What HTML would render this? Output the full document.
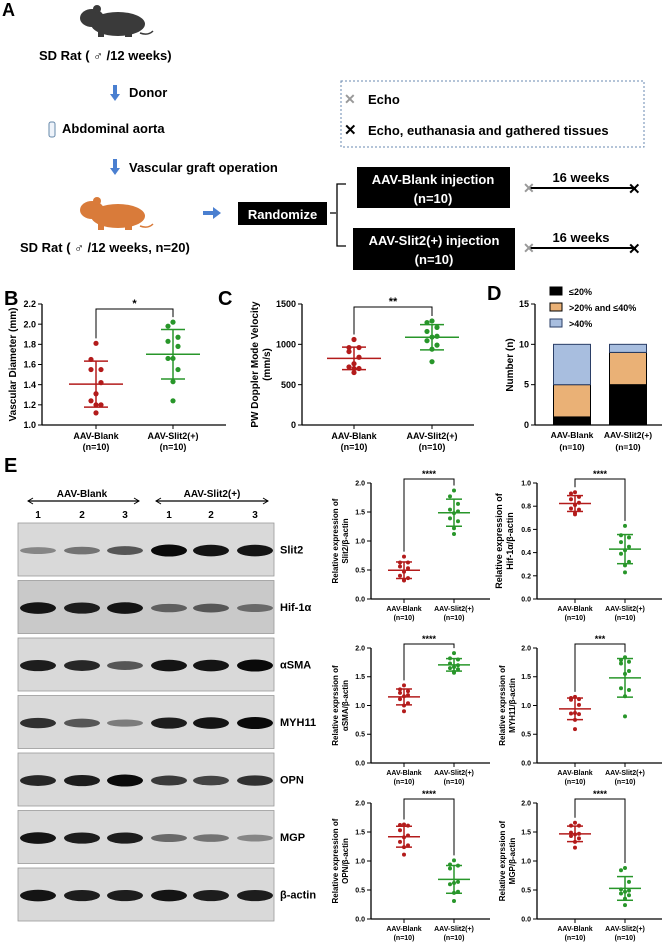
<!DOCTYPE html>
<html><head><meta charset="utf-8"><style>
body{margin:0;background:#fff}
svg{display:block;font-family:"Liberation Sans",Arial,sans-serif;font-weight:bold}
</style></head><body>
<svg id="fig" width="668" height="944" viewBox="0 0 668 944" xmlns="http://www.w3.org/2000/svg">
<!-- Panel A -->
<g>
<text x="2" y="16" font-size="18">A</text>
<g fill="#3a3a3a">
<ellipse cx="118" cy="24" rx="27" ry="12"/><ellipse cx="92" cy="18" rx="12" ry="9"/><ellipse cx="97" cy="9" rx="4" ry="4"/>
<rect x="98" y="28" width="6" height="9"/><rect x="125" y="28" width="7" height="9"/>
<path d="M140 33 Q148 36 153 31" stroke="#3a3a3a" stroke-width="1.5" fill="none"/></g>
<text x="39" y="60" font-size="13">SD Rat ( ♂ /12 weeks)</text>
<rect x="113" y="85" width="4" height="10" fill="#4a7fd0"/><path d="M110 94 L120 94 L115 101Z" fill="#4a7fd0"/>
<text x="129" y="97" font-size="13">Donor</text>
<rect x="49" y="122" width="6" height="15" rx="2" fill="#eef3fa" stroke="#6688aa"/>
<text x="62" y="133" font-size="13">Abdominal aorta</text>
<rect x="113" y="159" width="4" height="10" fill="#4a7fd0"/><path d="M110 168 L120 168 L115 175Z" fill="#4a7fd0"/>
<text x="129" y="172" font-size="13">Vascular graft operation</text>
<g fill="#d97b3a">
<ellipse cx="118" cy="216" rx="27" ry="12"/><ellipse cx="92" cy="210" rx="12" ry="9"/><ellipse cx="97" cy="201" rx="4" ry="4"/>
<rect x="98" y="220" width="6" height="10"/><rect x="125" y="220" width="7" height="10"/>
<path d="M140 226 Q148 229 153 224" stroke="#d97b3a" stroke-width="1.5" fill="none"/></g>
<text x="20" y="252" font-size="13">SD Rat ( ♂ /12 weeks, n=20)</text>
<rect x="203" y="211" width="11" height="4" fill="#4a7fd0"/><path d="M213 207 L221 213 L213 219Z" fill="#4a7fd0"/>
<rect x="238" y="202" width="89" height="23" fill="#000"/>
<text x="282.5" y="219" font-size="13" fill="#fff" text-anchor="middle">Randomize</text>
<path d="M330 213 H336 M346 184 H337 V246 H346" stroke="#000" stroke-width="1.3" fill="none"/>
<rect x="357" y="167" width="153" height="41" fill="#000"/>
<text x="433" y="184" font-size="13" fill="#fff" text-anchor="middle">AAV-Blank injection</text>
<text x="433" y="203" font-size="13" fill="#fff" text-anchor="middle">(n=10)</text>
<rect x="353" y="228" width="162" height="42" fill="#000"/>
<text x="434" y="245" font-size="13" fill="#fff" text-anchor="middle">AAV-Slit2(+) injection</text>
<text x="434" y="264" font-size="13" fill="#fff" text-anchor="middle">(n=10)</text>
<g>
<line x1="528" y1="188" x2="636" y2="188" stroke="#000" stroke-width="2"/>
<text x="523" y="193" font-size="14" fill="#999">✕</text><text x="628" y="194" font-size="15">✕</text>
<text x="581" y="182" font-size="13" text-anchor="middle">16 weeks</text></g>
<g>
<line x1="528" y1="248" x2="636" y2="248" stroke="#000" stroke-width="2"/>
<text x="523" y="253" font-size="14" fill="#999">✕</text><text x="628" y="254" font-size="15">✕</text>
<text x="581" y="242" font-size="13" text-anchor="middle">16 weeks</text></g>
<rect x="341" y="81" width="303" height="66" fill="none" stroke="#6a8ab0" stroke-dasharray="2,2"/>
<text x="344" y="104" font-size="14" fill="#999">✕</text>
<text x="368" y="104" font-size="13">Echo</text>
<text x="344" y="135" font-size="15">✕</text>
<text x="368" y="135" font-size="13">Echo, euthanasia and gathered tissues</text>
</g>
<text x="4" y="305" font-size="20">B</text>
<text x="218" y="305" font-size="20">C</text>
<text x="487" y="300" font-size="20">D</text>
<text x="4" y="472" font-size="20">E</text>
<g id="blots"></g>
<g id="charts"></g>
</svg>
<script>
const NS='http://www.w3.org/2000/svg';
const svg=document.getElementById('charts');
function el(tag,attrs,parent,txt){const e=document.createElementNS(NS,tag);for(const k in attrs)e.setAttribute(k,attrs[k]);if(txt!==undefined)e.textContent=txt;(parent||svg).appendChild(e);return e;}
const RED='#b31b1b',GREEN='#28962a';

// ---- data ----
const bBlank=[1.81,1.65,1.55,1.55,1.42,1.31,1.24,1.20,1.20,1.12];
const bSlit=[2.02,1.98,1.87,1.83,1.78,1.66,1.66,1.55,1.43,1.24];
const cBlank=[1060,960,960,910,840,760,720,700,700,650];
const cSlit=[1290,1270,1210,1160,1100,1090,1045,990,940,785];
const dCategories=['AAV-Blank','AAV-Slit2(+)'];
const dLow=[1,5];
const dMid=[4,4];
const dHigh=[5,1];
const slit2Blank=[0.73,0.63,0.63,0.56,0.53,0.47,0.40,0.36,0.33,0.32];
const slit2Slit=[1.87,1.77,1.64,1.54,1.51,1.48,1.39,1.34,1.22,1.12];
const hifBlank=[0.92,0.91,0.88,0.86,0.83,0.81,0.78,0.77,0.74,0.73];
const hifSlit=[0.63,0.55,0.53,0.49,0.45,0.42,0.39,0.32,0.29,0.23];
const smaBlank=[1.35,1.28,1.25,1.22,1.18,1.16,1.11,1.04,1.00,0.90];
const smaSlit=[1.91,1.82,1.80,1.73,1.70,1.67,1.65,1.63,1.59,1.57];
const myhBlank=[1.15,1.13,1.11,1.10,1.01,0.87,0.86,0.85,0.75,0.59];
const myhSlit=[1.84,1.79,1.76,1.73,1.60,1.55,1.30,1.27,1.16,0.81];
const opnBlank=[1.63,1.62,1.61,1.53,1.44,1.41,1.33,1.27,1.24,1.11];
const opnSlit=[1.01,0.94,0.92,0.87,0.64,0.62,0.60,0.47,0.45,0.31];
const mgpBlank=[1.66,1.61,1.61,1.49,1.47,1.46,1.43,1.39,1.33,1.23];
const mgpSlit=[0.88,0.84,0.64,0.51,0.49,0.47,0.44,0.41,0.35,0.24];
const ticks2=[0,0.5,1.0,1.5,2.0];
const ticksHif=[0,0.2,0.4,0.6,0.8,1.0];
const ticksB=[1.0,1.2,1.4,1.6,1.8,2.0,2.2];
const ticksC=[0,500,1000,1500];
const ticksD=[0,5,10,15];
const blotRows=['Slit2','Hif-1α','αSMA','MYH11','OPN','MGP','β-actin'];
const blotIntensity=[[.35,.45,.6,1,.95,.95],[.95,.9,.95,.55,.6,.5],[.9,.85,.6,.95,.95,1],[.8,.6,.4,.9,.95,1],[.85,.9,1,.75,.7,.8],[.95,.9,.9,.5,.45,.35],[.95,.9,.9,.95,.9,.9]];

function mean(a){return a.reduce((s,v)=>s+v,0)/a.length;}
function sd(a){const m=mean(a);return Math.sqrt(a.reduce((s,v)=>s+(v-m)*(v-m),0)/(a.length-1));}
const jit=[0,-1,1,-1,1,0,-1,1,0,0];

function scatter(p){
  const g=el('g',{});
  
  
  const y=v=>p.yb-(v-p.min)/(p.max-p.min)*(p.yb-p.yt);
  el('line',{x1:p.x0,y1:p.yt,x2:p.x0,y2:p.yb,stroke:'#000','stroke-width':1.3},g);
  el('line',{x1:p.x0,y1:p.yb,x2:p.xe,y2:p.yb,stroke:'#000','stroke-width':1.3},g);
  p.ticks.forEach(t=>{el('line',{x1:p.x0-4,y1:y(t),x2:p.x0,y2:y(t),stroke:'#000'},g);
    const tl=el('text',{x:p.x0-6,y:y(t)+p.fs*0.35,'font-size':p.fs,'text-anchor':'end'},g,p.fmt(t));
    });
  const cats=[p.cx1,p.cx2],groups=[p.a,p.b],cols=[RED,GREEN];
  cats.forEach(c=>el('line',{x1:c,y1:p.yb,x2:c,y2:p.yb+4,stroke:'#000'},g));
  const labs=['AAV-Blank','AAV-Slit2(+)'];
  cats.forEach((c,i)=>{const t1=el('text',{x:c,y:p.yb+p.fs+5,'font-size':p.fs,'text-anchor':'middle'},g,labs[i]);
    
    el('text',{x:c,y:p.yb+2*p.fs+7,'font-size':p.fs,'text-anchor':'middle'},g,'(n=10)');});
  groups.forEach((arr,i)=>{const c=cats[i],col=cols[i];
    arr.forEach((v,k)=>{const d=el('circle',{cx:c+jit[k]*p.jw,cy:y(v),r:p.r,fill:col},g);
      });
    const m=mean(arr),s=sd(arr);
    el('line',{x1:c-p.mw,y1:y(m),x2:c+p.mw,y2:y(m),stroke:col,'stroke-width':1.5},g);
    el('line',{x1:c,y1:y(m+s),x2:c,y2:y(m-s),stroke:col,'stroke-width':1.5},g);
    [m+s,m-s].forEach(v=>el('line',{x1:c-p.cw,y1:y(v),x2:c+p.cw,y2:y(v),stroke:col,'stroke-width':1.5},g));
  });
  const top=p.brk;
  const l1=y(Math.max(...p.a))-5,l2=y(Math.max(...p.b))-5;
  const br=el('path',{d:`M${p.cx1} ${l1} V${top} H${p.cx2} V${l2}`,stroke:'#000',fill:'none','stroke-width':1},g);
  
  const st=el('text',{x:(p.cx1+p.cx2)/2,y:top-2,'font-size':p.fs+2,'text-anchor':'middle'},g,p.sig);
  
  p.title.forEach((t,i)=>{const tx=p.tx+i*(p.tfs+2),ty=(p.yt+p.yb)/2;
    const tt=el('text',{x:tx,y:ty,'font-size':p.tfs,'text-anchor':'middle',transform:`rotate(-90 ${tx} ${ty})`},g,t);
    });
}
const f1=v=>v.toFixed(1),f0=v=>String(v);
scatter({name:'panel-b-diameter-chart',x0:42,xe:226,yt:304,yb:425,min:1,max:2.2,ticks:ticksB,fmt:f1,fs:9,cx1:96,cx2:173,a:bBlank,b:bSlit,r:2.6,jw:5,mw:27,cw:12,brk:309,sig:'*',title:['Vascular Diameter (mm)'],tx:16,tfs:10});
scatter({name:'panel-c-velocity-chart',x0:302,xe:474,yt:304,yb:425,min:0,max:1500,ticks:ticksC,fmt:f0,fs:9,cx1:354,cx2:432,a:cBlank,b:cSlit,r:2.6,jw:5,mw:27,cw:12,brk:307,sig:'**',title:['PW Doppler Mode Velocity','(mm/s)'],tx:258,tfs:10});
const sp=[
 ['slit2-expression-chart',371,490,483,599,404,454,slit2Blank,slit2Slit,2,ticks2,f1,'****',['Relative expression of','Slit2/β-actin'],338,8],
 ['hif-expression-chart',537,662,483,599,575,625,hifBlank,hifSlit,1,ticksHif,f1,'****',['Relative expression of','Hif-1α/β-actin'],502,9],
 ['asma-expression-chart',371,490,648,763,404,454,smaBlank,smaSlit,2,ticks2,f1,'****',['Relative exprssion of','αSMA/β-actin'],338,8],
 ['myh11-expression-chart',537,662,648,763,575,625,myhBlank,myhSlit,2,ticks2,f1,'***',['Relative exprssion of','MYH11/β-actin'],505,8],
 ['opn-expression-chart',371,490,803,919,404,454,opnBlank,opnSlit,2,ticks2,f1,'****',['Relative expression of','OPN/β-actin'],338,8],
 ['mgp-expression-chart',537,662,803,919,575,625,mgpBlank,mgpSlit,2,ticks2,f1,'****',['Relative exprssion of','MGP/β-actin'],505,8]];
sp.forEach(s=>scatter({name:s[0],x0:s[1],xe:s[2],yt:s[3],yb:s[4],cx1:s[5],cx2:s[6],a:s[7],b:s[8],min:0,max:s[9],ticks:s[10],fmt:s[11],sig:s[12],title:s[13],tx:s[14],tfs:s[15],fs:7,r:2,jw:4,mw:16,cw:8,brk:s[3]-4}));

// Panel D stacked bars
(function(){
  const g=el('g',{});
  
  
  const x0=535,yt=304,yb=425,max=15,y=v=>yb-v/max*(yb-yt);
  el('line',{x1:x0,y1:yt,x2:x0,y2:yb,stroke:'#000','stroke-width':1.3},g);
  el('line',{x1:x0,y1:yb,x2:662,y2:yb,stroke:'#000','stroke-width':1.3},g);
  ticksD.forEach(t=>{el('line',{x1:x0-4,y1:y(t),x2:x0,y2:y(t),stroke:'#000'},g);el('text',{x:x0-6,y:y(t)+3,'font-size':9,'text-anchor':'end'},g,t);});
  const cx=[572,628],cols=['#000','#eab176','#a8bedf'],series=[dLow,dMid,dHigh];
  cx.forEach((c,i)=>{let base=0;series.forEach((s,k)=>{const b=el('rect',{x:c-18.5,y:y(base+s[i]),width:37,height:y(base)-y(base+s[i]),fill:cols[k],stroke:k==2?'#2a3e66':'#000','stroke-width':1},g);
    base+=s[i];});
    el('text',{x:c,y:438,'font-size':8.5,'text-anchor':'middle'},g,dCategories[i]);el('text',{x:c,y:450,'font-size':8.5,'text-anchor':'middle'},g,'(n=10)');});
  const ln=['≤20%','>20% and ≤40%','>40%'];
  ln.forEach((t,k)=>{const r=el('rect',{x:550,y:287+k*16,width:12,height:8,fill:cols[k],stroke:k==2?'#2a3e66':'#000'},g);
    
    const tt=el('text',{x:569,y:295+k*16,'font-size':9},g,t);});
  el('text',{x:513,y:365,'font-size':10,'text-anchor':'middle',transform:'rotate(-90 513 365)'},g,'Number (n)');
})();

// Western blots
(function(){
  const g=document.getElementById('blots');
  const lanes=[38,82,125,169,211,255];
  el('text',{x:82,y:497,'font-size':10,'text-anchor':'middle'},g,'AAV-Blank');
  el('text',{x:212,y:497,'font-size':10,'text-anchor':'middle'},g,'AAV-Slit2(+)');
  [[28,139],[156,268]].forEach(a=>{el('line',{x1:a[0],y1:501,x2:a[1],y2:501,stroke:'#000','stroke-width':1.2},g);
    el('path',{d:`M${a[0]+5} 498 L${a[0]} 501 L${a[0]+5} 504 M${a[1]-5} 498 L${a[1]} 501 L${a[1]-5} 504`,stroke:'#000',fill:'none'},g);});
  lanes.forEach((x,i)=>el('text',{x:x,y:518,'font-size':10,'text-anchor':'middle'},g,String(i%3+1)));
  blotRows.forEach((name,r)=>{const y0=523+r*57.5,h=53;
    const row=el('g',{},g);
    
    
    el('rect',{x:18,y:y0,width:256,height:h,fill:r==1?'#c9c9c9':'#d9d9d9',stroke:'#999','stroke-width':0.8},row);
    blotIntensity[r].forEach((v,i)=>{const sh=Math.round(200-190*v);
      el('ellipse',{cx:lanes[i],cy:y0+h*0.52,rx:18,ry:2+v*4,fill:`rgb(${sh},${sh},${sh})`},row);});
    const lbl=el('text',{x:280,y:y0+h/2+4,'font-size':11},g,name);
    
  });
})();
</script>
</body></html>
